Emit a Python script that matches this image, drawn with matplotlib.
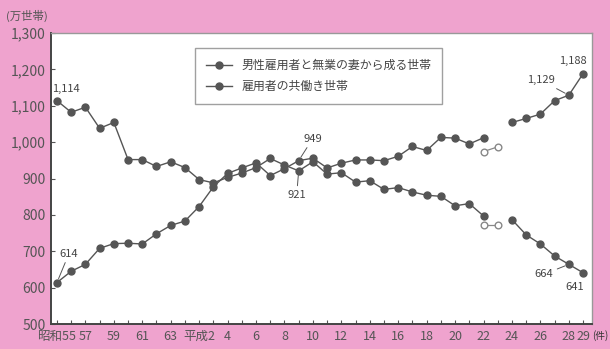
import numpy as np
import matplotlib
matplotlib.use("Agg")
import matplotlib.pyplot as plt

plt.rcParams['font.family'] = ['Noto Sans CJK JP', 'DejaVu Sans']

years = list(range(1980, 2018))
single_earner = [1114, 1082, 1096, 1038, 1054, 952, 952, 933, 946, 930,
                 897, 888, 903, 915, 930, 955, 937, 921, 946, 912,
                 916, 890, 894, 870, 875, 863, 854, 851, 825, 831,
                 797, np.nan, 787, 745, 720, 687, 664, 641]
dual_earner = [614, 645, 664, 708, 721, 722, 720, 748, 771, 783,
               823, 877, 914, 929, 943, 908, 927, 949, 956, 929,
               942, 951, 951, 949, 961, 988, 977, 1013, 1011, 995,
               1012, np.nan, 1054, 1065, 1077, 1114, 1129, 1188]
# 2010-2011 values excluding Iwate, Miyagi and Fukushima (hollow markers)
excl_years = [2010, 2011]
single_excl = [773, 773]
dual_excl = [974, 987]

series_labels = ['男性雇用者と無業の妻から成る世帯', '雇用者の共働き世帯']
tick_years = [1980, 1982, 1984, 1986, 1988, 1990, 1992, 1994, 1996, 1998,
              2000, 2002, 2004, 2006, 2008, 2010, 2012, 2014, 2016, 2017]
tick_labels = ['昭和55', '57', '59', '61', '63', '平成2', '4', '6', '8', '10',
               '12', '14', '16', '18', '20', '22', '24', '26', '28', '29']
y_ticks = [500, 600, 700, 800, 900, 1000, 1100, 1200, 1300]

pink = '#EFA3CE'
ink = '#555555'
num_font = ['Liberation Sans Narrow', 'Noto Sans CJK JP', 'DejaVu Sans']

fig = plt.figure(figsize=(6.10, 3.49), dpi=100, facecolor=pink)
ax = fig.add_axes([51/610, 1 - 324/349, (592 - 51)/610, (324 - 33)/349])
ax.set_facecolor('white')

line_kw = dict(color=ink, lw=1.0, marker='o', markersize=5.0,
               markerfacecolor=ink, markeredgecolor=ink)
ax.plot(years, single_earner, label=series_labels[0], **line_kw)
ax.plot(years, dual_earner, label=series_labels[1], **line_kw)

hollow_kw = dict(color='#888888', lw=0.9, marker='o', markersize=4.8,
                 markerfacecolor='white', markeredgecolor='#888888')
ax.plot(excl_years, single_excl, **hollow_kw)
ax.plot(excl_years, dual_excl, **hollow_kw)

ax.set_xlim(1979.58, 2017.63)
ax.set_ylim(500, 1300)
ax.set_xticks(tick_years)
ax.set_xticklabels(tick_labels)
ax.set_xticks(years, minor=True)
ax.set_yticks(y_ticks)
ax.set_yticklabels([f'{v:,}' for v in y_ticks])
ax.tick_params(axis='both', which='both', direction='in', colors=ink,
               length=3, width=0.8)
ax.tick_params(axis='x', which='major', pad=4)
ax.tick_params(axis='y', pad=4)
for lab in ax.get_yticklabels():
    lab.set_family(num_font)
    lab.set_fontsize(10)
for lab in ax.get_xticklabels():
    lab.set_family(num_font)
    lab.set_fontsize(9)
for side in ('left', 'bottom'):
    ax.spines[side].set_color('#444444')
    ax.spines[side].set_linewidth(1.4)
for side in ('top', 'right'):
    ax.spines[side].set_color('#999999')
    ax.spines[side].set_linewidth(1.0)

fig.text(6/610, 1 - 16/349, '(万世帯)', fontsize=8.2, color=ink,
         ha='left', va='center')
fig.text(592/610, 1 - 336/349, '(件)', fontsize=7, color='#333333',
         ha='left', va='center')

def note(x, y, text, dx, dy, leader=False):
    props = dict(arrowstyle='-', color=ink, lw=0.7, shrinkA=1, shrinkB=3) if leader else None
    ax.annotate(text, xy=(x, y), xytext=(dx, dy), textcoords='offset pixels',
                ha='center', va='center', fontsize=8, color='#444444',
                family=num_font, arrowprops=props)

note(years[0], single_earner[0], f'{single_earner[0]:,}', 9, 12)
note(years[0], dual_earner[0], f'{dual_earner[0]:,}', 12, 29, leader=True)
note(years[17], dual_earner[17], f'{dual_earner[17]:,}', 14, 22, leader=True)
note(years[17], single_earner[17], f'{single_earner[17]:,}', -2, -24, leader=True)
note(years[36], dual_earner[36], f'{dual_earner[36]:,}', -28, 15, leader=True)
note(years[37], dual_earner[37], f'{dual_earner[37]:,}', -10, 13)
note(years[36], single_earner[36], f'{single_earner[36]:,}', -25, -10, leader=True)
note(years[37], single_earner[37], f'{single_earner[37]:,}', -8, -14)

leg = ax.legend(loc='upper left', bbox_to_anchor=(195/610, 1 - 48/349),
                bbox_transform=fig.transFigure, fontsize=8.6, frameon=True,
                fancybox=False, edgecolor='#888888', borderpad=0.9,
                handlelength=2.2, handletextpad=0.8, labelspacing=0.7,
                borderaxespad=0)
leg.get_frame().set_linewidth(1.0)
for t in leg.get_texts():
    t.set_color('#444444')

fig.savefig('out.png', dpi=100, facecolor=pink)
